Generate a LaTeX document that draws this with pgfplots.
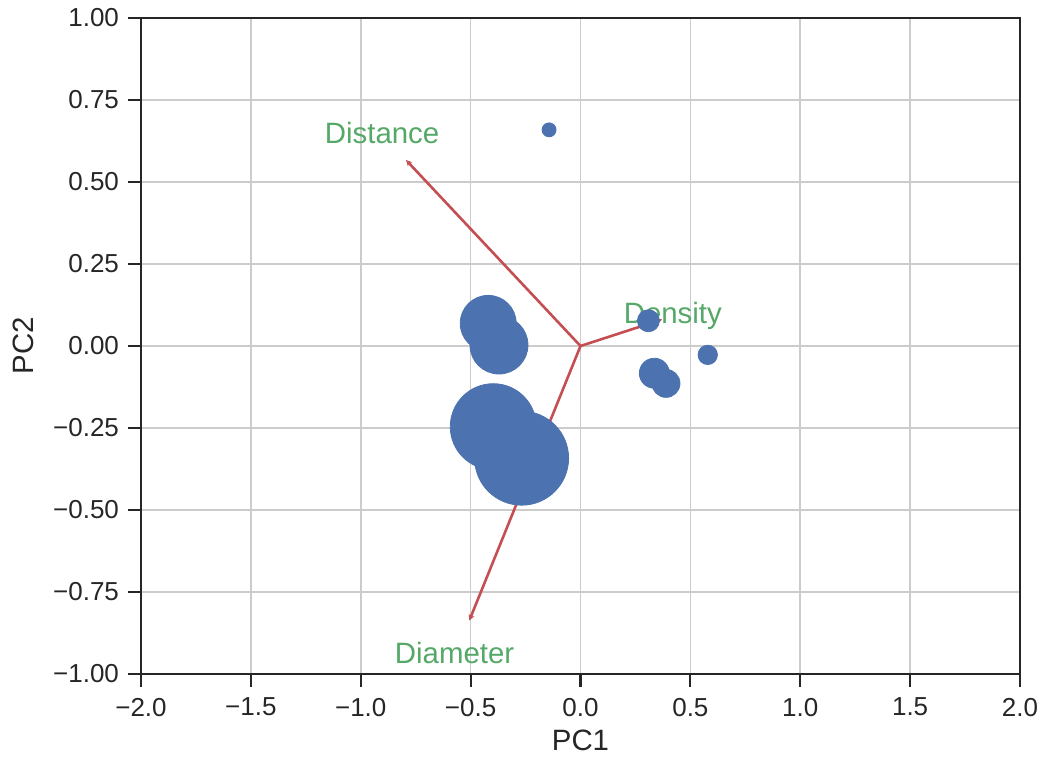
\documentclass[border=0pt]{standalone}
\usepackage{fontspec}
\setmainfont{Liberation Sans}
\usepackage{pgfplots}
\usepackage{pgfplotstable}
\pgfplotsset{compat=1.18}
\usetikzlibrary{arrows.meta}
\definecolor{ptblue}{HTML}{4C72B0}
\definecolor{lred}{HTML}{C44E52}
\definecolor{lgreen}{HTML}{55A868}
\definecolor{axdark}{HTML}{262626}
\definecolor{gridg}{HTML}{CCCCCC}

\pgfplotstableread{
x y r
-0.143 0.659 3.5
0.309 0.077 5.5
0.579 -0.027 4.85
0.336 -0.083 7.5
0.389 -0.114 7
-0.420 0.069 14
-0.371 0.003 14.5
-0.397 -0.246 21.5
-0.268 -0.342 23.5
}\scores

\begin{document}
\begin{tikzpicture}
\begin{axis}[
  name=ax, at={(0,0)}, anchor=south west,
  scale only axis, width=439.5pt, height=328pt,
  xmin=-2, xmax=2, ymin=-1, ymax=1,
  xtick={-2,-1.5,-1,-0.5,0,0.5,1,1.5,2},
  xticklabels={−2.0,−1.5,−1.0,−0.5,0.0,0.5,1.0,1.5,2.0},
  ytick={-1,-0.75,-0.5,-0.25,0,0.25,0.5,0.75,1},
  yticklabels={−1.00,−0.75,−0.50,−0.25,0.00,0.25,0.50,0.75,1.00},
  tick align=outside, tick pos=left,
  major tick length=6.5pt,
  tick style={axdark, line width=1.1pt},
  axis line style={axdark, line width=1.3pt},
  grid=major,
  major grid style={gridg, line width=0.85pt},
  ticklabel style={font=\fontsize{13}{15}\selectfont, text=axdark},
  xticklabel style={yshift=-2pt},
  yticklabel style={xshift=-1pt},
  label style={font=\fontsize{14.7}{17}\selectfont, text=axdark},
  xlabel={PC1}, ylabel={PC2},
  xlabel style={at={(axis description cs:0.5,-0.1006)}, anchor=center},
  ylabel style={at={(axis description cs:-0.1342,0.5)}, anchor=center},
]
\addplot[scatter, only marks, mark=*, draw=none, fill=ptblue,
  scatter/use mapped color={draw=ptblue, fill=ptblue},
  visualization depends on={\thisrow{r} \as \rr},
  scatter/@pre marker code/.append style={/tikz/mark size=\rr pt}]
  table[x=x, y=y] {\scores};
\addplot[lred, line width=1.3pt, -{Stealth[length=3pt,width=3pt]}] coordinates {(0,0) (-0.794,0.567)};
\addplot[lred, line width=1.3pt, -{Stealth[length=3pt,width=3pt]}] coordinates {(0,0) (0.372,0.081)};
\addplot[lred, line width=1.3pt, -{Stealth[length=3pt,width=3pt]}] coordinates {(0,0) (-0.506,-0.837)};
\node[text=lgreen, font=\fontsize{14.7}{17}\selectfont, anchor=base, inner sep=0pt] at (axis cs:-0.903,0.618) {Distance};
\node[text=lgreen, font=\fontsize{14.7}{17}\selectfont, anchor=base, inner sep=0pt] at (axis cs:0.42,0.069) {Density};
\node[text=lgreen, font=\fontsize{14.7}{17}\selectfont, anchor=base, inner sep=0pt] at (axis cs:-0.573,-0.967) {Diameter};
\end{axis}
\pgfresetboundingbox
\path[use as bounding box] ([xshift=-70.5pt,yshift=-41pt]ax.south west) rectangle ([xshift=11pt,yshift=9pt]ax.north east);
\end{tikzpicture}
\end{document}
